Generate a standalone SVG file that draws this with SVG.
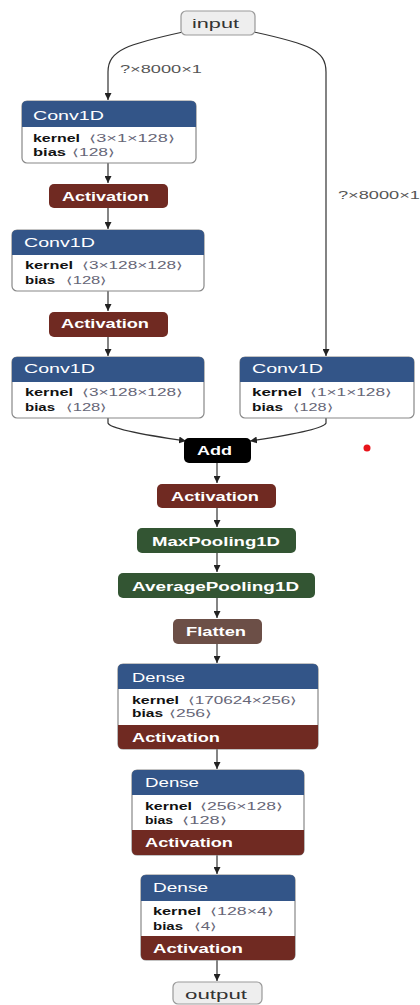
<svg xmlns="http://www.w3.org/2000/svg" width="420" height="1005" viewBox="0 0 420 1005">
  <defs>
    <marker id="arrow" viewBox="0 0 8 8" refX="8" refY="4" markerWidth="7" markerHeight="7" markerUnits="userSpaceOnUse" orient="auto">
      <path d="M0,0 L8,4 L0,8 Z" fill="#222"/>
    </marker>
    <style>
      text { font-family: "Liberation Sans", Arial, sans-serif; }
      .edge { fill: none; stroke: #333; stroke-width: 1.2; marker-end: url(#arrow); }
      .elabel { font-size: 10.5px; fill: #555; }
      .io { fill: #eeeeee; stroke: #999; stroke-width: 1.2; }
      .iotext { font-size: 12px; fill: #333; }
      .body { fill: #fff; stroke: #888; stroke-width: 1.2; }
      .conv { fill: #335588; }
      .act { fill: #702a22; }
      .pool { fill: #335533; }
      .shape { fill: #6c4f47; }
      .add { fill: #000; }
      .title { font-size: 12px; fill: #fff; }
      .btitle { font-size: 12px; fill: #fff; font-weight: bold; }
      .attr { font-size: 10px; fill: #111; font-weight: bold; }
      .dim { font-size: 10px; fill: #667; }
    </style>
  </defs>

  <!-- connectors -->
  <g id="edges">
    <path class="edge" d="M183,32 C128,44 108,50 108,72 L108,100"/>
    <path class="edge" d="M254,32 C309,44 326,50 326,72 L326,356"/>
    <path class="edge" d="M108,163 L108,183"/>
    <path class="edge" d="M108,208 L108,229"/>
    <path class="edge" d="M108,291 L108,311"/>
    <path class="edge" d="M108,337 L108,356"/>
    <path class="edge" d="M108,418 L108,423 Q110,430 186,441"/>
    <path class="edge" d="M326,418 L326,423 Q324,430 250,441"/>
    <path class="edge" d="M217,463 L217,483"/>
    <path class="edge" d="M217,508 L217,527"/>
    <path class="edge" d="M217,553 L217,572"/>
    <path class="edge" d="M217,598 L217,618"/>
    <path class="edge" d="M217,644 L217,663"/>
    <path class="edge" d="M217,749 L217,769"/>
    <path class="edge" d="M217,855 L217,874"/>
    <path class="edge" d="M217,960 L217,981"/>
    <text class="elabel" x="120" y="73" textLength="82" lengthAdjust="spacingAndGlyphs">?×8000×1</text>
    <text class="elabel" x="338" y="199" textLength="82" lengthAdjust="spacingAndGlyphs">?×8000×1</text>
  </g>

  <!-- input -->
  <g id="input">
    <rect class="io" x="181" y="11" width="74" height="24" rx="5"/>
    <text class="iotext" x="192" y="28" textLength="47" lengthAdjust="spacingAndGlyphs">input</text>
  </g>

  <!-- first Conv1D -->
  <g id="conv1d_1">
    <rect class="body" x="22" y="101" width="174" height="62" rx="5"/>
    <path class="conv" d="M22,127 L22,106 Q22,101 27,101 L191,101 Q196,101 196,106 L196,127 Z"/>
    <text class="title" x="33" y="120" textLength="71" lengthAdjust="spacingAndGlyphs">Conv1D</text>
    <text class="attr" x="33" y="142" textLength="47" lengthAdjust="spacingAndGlyphs">kernel</text>
    <text class="dim" x="89" y="142" textLength="86" lengthAdjust="spacingAndGlyphs">⟨3×1×128⟩</text>
    <text class="attr" x="33" y="156" textLength="33" lengthAdjust="spacingAndGlyphs">bias</text>
    <text class="dim" x="72" y="156" textLength="43" lengthAdjust="spacingAndGlyphs">⟨128⟩</text>
  </g>

  <g id="activation_1">
    <rect class="act" x="49" y="184" width="119" height="24" rx="5"/>
    <text class="btitle" x="62" y="201" textLength="87" lengthAdjust="spacingAndGlyphs">Activation</text>
  </g>

  <!-- second Conv1D -->
  <g id="conv1d_2">
    <rect class="body" x="12" y="230" width="192" height="61" rx="5"/>
    <path class="conv" d="M12,255 L12,235 Q12,230 17,230 L199,230 Q204,230 204,235 L204,255 Z"/>
    <text class="title" x="24" y="247" textLength="71" lengthAdjust="spacingAndGlyphs">Conv1D</text>
    <text class="attr" x="25" y="269" textLength="48" lengthAdjust="spacingAndGlyphs">kernel</text>
    <text class="dim" x="82" y="269" textLength="101" lengthAdjust="spacingAndGlyphs">⟨3×128×128⟩</text>
    <text class="attr" x="25" y="284" textLength="30" lengthAdjust="spacingAndGlyphs">bias</text>
    <text class="dim" x="66" y="284" textLength="41" lengthAdjust="spacingAndGlyphs">⟨128⟩</text>
  </g>

  <g id="activation_2">
    <rect class="act" x="49" y="312" width="119" height="25" rx="5"/>
    <text class="btitle" x="61" y="328" textLength="88" lengthAdjust="spacingAndGlyphs">Activation</text>
  </g>

  <!-- third Conv1D -->
  <g id="conv1d_3">
    <rect class="body" x="12" y="357" width="192" height="61" rx="5"/>
    <path class="conv" d="M12,382 L12,362 Q12,357 17,357 L199,357 Q204,357 204,362 L204,382 Z"/>
    <text class="title" x="24" y="373" textLength="71" lengthAdjust="spacingAndGlyphs">Conv1D</text>
    <text class="attr" x="25" y="396" textLength="48" lengthAdjust="spacingAndGlyphs">kernel</text>
    <text class="dim" x="82" y="396" textLength="101" lengthAdjust="spacingAndGlyphs">⟨3×128×128⟩</text>
    <text class="attr" x="25" y="411" textLength="30" lengthAdjust="spacingAndGlyphs">bias</text>
    <text class="dim" x="66" y="411" textLength="41" lengthAdjust="spacingAndGlyphs">⟨128⟩</text>
  </g>

  <!-- shortcut Conv1D -->
  <g id="conv1d_shortcut">
    <rect class="body" x="240" y="357" width="174" height="61" rx="5"/>
    <path class="conv" d="M240,382 L240,362 Q240,357 245,357 L409,357 Q414,357 414,362 L414,382 Z"/>
    <text class="title" x="252" y="373" textLength="71" lengthAdjust="spacingAndGlyphs">Conv1D</text>
    <text class="attr" x="252" y="396" textLength="50" lengthAdjust="spacingAndGlyphs">kernel</text>
    <text class="dim" x="310" y="396" textLength="82" lengthAdjust="spacingAndGlyphs">⟨1×1×128⟩</text>
    <text class="attr" x="252" y="411" textLength="31" lengthAdjust="spacingAndGlyphs">bias</text>
    <text class="dim" x="293" y="411" textLength="40" lengthAdjust="spacingAndGlyphs">⟨128⟩</text>
  </g>

  <g id="add">
    <rect class="add" x="184" y="438" width="67" height="25" rx="5"/>
    <text class="btitle" x="197" y="455" textLength="35" lengthAdjust="spacingAndGlyphs">Add</text>
  </g>

  <circle id="marker_dot" cx="367" cy="448" r="3.5" fill="#e8141a"/>

  <g id="activation_3">
    <rect class="act" x="157" y="484" width="119" height="24" rx="5"/>
    <text class="btitle" x="171" y="501" textLength="88" lengthAdjust="spacingAndGlyphs">Activation</text>
  </g>

  <g id="maxpooling1d">
    <rect class="pool" x="137" y="528" width="159" height="25" rx="5"/>
    <text class="btitle" x="152" y="546" textLength="128" lengthAdjust="spacingAndGlyphs">MaxPooling1D</text>
  </g>

  <g id="averagepooling1d">
    <rect class="pool" x="118" y="573" width="197" height="25" rx="5"/>
    <text class="btitle" x="132" y="591" textLength="167" lengthAdjust="spacingAndGlyphs">AveragePooling1D</text>
  </g>

  <g id="flatten">
    <rect class="shape" x="173" y="619" width="89" height="25" rx="5"/>
    <text class="btitle" x="186" y="636" textLength="60" lengthAdjust="spacingAndGlyphs">Flatten</text>
  </g>

  <!-- Dense blocks with fused activation -->
  <g id="dense_1">
    <rect class="body" x="118" y="664" width="200" height="85" rx="5"/>
    <path class="conv" d="M118,689 L118,669 Q118,664 123,664 L313,664 Q318,664 318,669 L318,689 Z"/>
    <path class="act" d="M118,725 L318,725 L318,744 Q318,749 313,749 L123,749 Q118,749 118,744 Z"/>
    <text class="title" x="132" y="682" textLength="53" lengthAdjust="spacingAndGlyphs">Dense</text>
    <text class="attr" x="132" y="704" textLength="47" lengthAdjust="spacingAndGlyphs">kernel</text>
    <text class="dim" x="188" y="704" textLength="109" lengthAdjust="spacingAndGlyphs">⟨170624×256⟩</text>
    <text class="attr" x="132" y="717" textLength="31" lengthAdjust="spacingAndGlyphs">bias</text>
    <text class="dim" x="169" y="717" textLength="43" lengthAdjust="spacingAndGlyphs">⟨256⟩</text>
    <text class="btitle" x="132" y="742" textLength="88" lengthAdjust="spacingAndGlyphs">Activation</text>
  </g>

  <g id="dense_2">
    <rect class="body" x="132" y="770" width="172" height="85" rx="5"/>
    <path class="conv" d="M132,795 L132,775 Q132,770 137,770 L299,770 Q304,770 304,775 L304,795 Z"/>
    <path class="act" d="M132,830 L304,830 L304,850 Q304,855 299,855 L137,855 Q132,855 132,850 Z"/>
    <text class="title" x="145" y="787" textLength="54" lengthAdjust="spacingAndGlyphs">Dense</text>
    <text class="attr" x="145" y="810" textLength="47" lengthAdjust="spacingAndGlyphs">kernel</text>
    <text class="dim" x="200" y="810" textLength="83" lengthAdjust="spacingAndGlyphs">⟨256×128⟩</text>
    <text class="attr" x="145" y="824" textLength="28" lengthAdjust="spacingAndGlyphs">bias</text>
    <text class="dim" x="182" y="824" textLength="45" lengthAdjust="spacingAndGlyphs">⟨128⟩</text>
    <text class="btitle" x="145" y="847" textLength="88" lengthAdjust="spacingAndGlyphs">Activation</text>
  </g>

  <g id="dense_3">
    <rect class="body" x="141" y="875" width="154" height="85" rx="5"/>
    <path class="conv" d="M141,901 L141,880 Q141,875 146,875 L290,875 Q295,875 295,880 L295,901 Z"/>
    <path class="act" d="M141,936 L295,936 L295,955 Q295,960 290,960 L146,960 Q141,960 141,955 Z"/>
    <text class="title" x="153" y="892" textLength="55" lengthAdjust="spacingAndGlyphs">Dense</text>
    <text class="attr" x="153" y="915" textLength="48" lengthAdjust="spacingAndGlyphs">kernel</text>
    <text class="dim" x="210" y="915" textLength="64" lengthAdjust="spacingAndGlyphs">⟨128×4⟩</text>
    <text class="attr" x="153" y="930" textLength="30" lengthAdjust="spacingAndGlyphs">bias</text>
    <text class="dim" x="194" y="930" textLength="23" lengthAdjust="spacingAndGlyphs">⟨4⟩</text>
    <text class="btitle" x="153" y="953" textLength="90" lengthAdjust="spacingAndGlyphs">Activation</text>
  </g>

  <!-- output -->
  <g id="output">
    <rect class="io" x="173" y="982" width="89" height="22" rx="5"/>
    <text class="iotext" x="185" y="999" textLength="62" lengthAdjust="spacingAndGlyphs">output</text>
  </g>
</svg>
